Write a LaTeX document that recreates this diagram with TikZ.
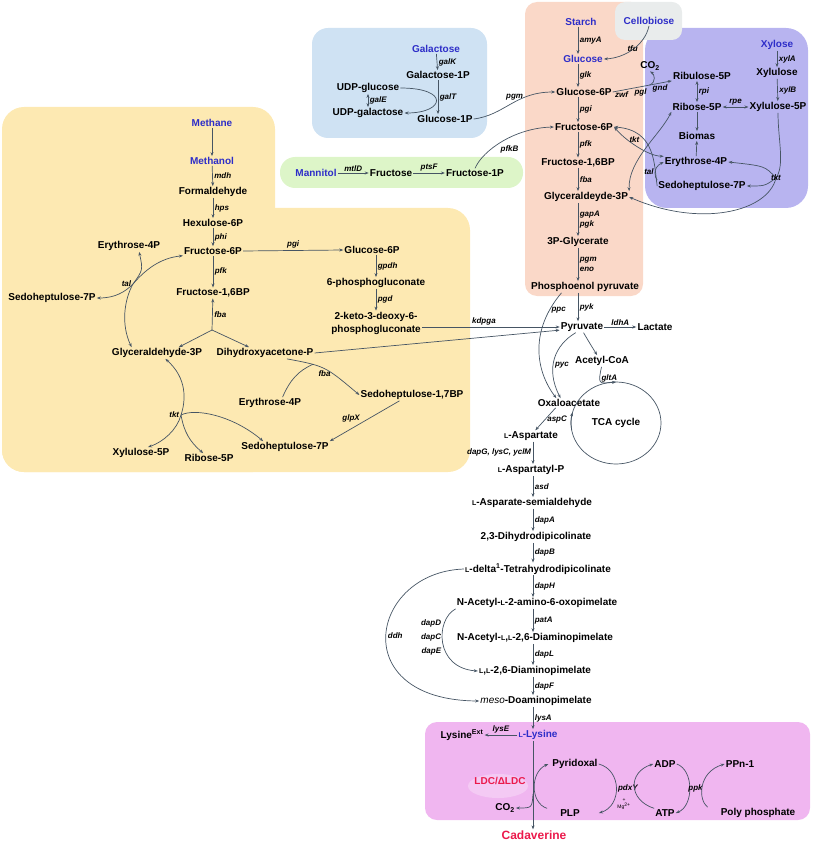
\documentclass[tikz,border=0pt]{standalone}
\usepackage{fontspec}
\setmainfont{Liberation Sans}
\usetikzlibrary{arrows.meta}

\definecolor{metblue}{RGB}{45,45,200}
\definecolor{cadred}{RGB}{235,25,75}
\definecolor{linegray}{RGB}{70,85,100}
\definecolor{bgyellow}{RGB}{253,233,178}
\definecolor{bgblue}{RGB}{207,226,243}
\definecolor{bgsalmon}{RGB}{250,216,200}
\definecolor{bggray}{RGB}{233,236,236}
\definecolor{bgpurple}{RGB}{184,180,240}
\definecolor{bggreen}{RGB}{221,245,200}
\definecolor{bgpink}{RGB}{240,182,240}

\newcommand{\smallL}{{\fontsize{7}{8}\selectfont L}}

\tikzset{
  met/.style={font=\bfseries, inner sep=1pt},
  src/.style={met, text=metblue},
  enz/.style={font=\fontsize{8}{10}\selectfont\bfseries\itshape, inner sep=1.5pt},
  rxn/.style={draw=linegray, line width=0.7pt, ->},
  rxntwo/.style={draw=linegray, line width=0.7pt, <->},
  lijn/.style={draw=linegray, line width=0.7pt},
}

\begin{document}
\begin{tikzpicture}[x=1pt, y=-1pt, >={Stealth[length=4pt,width=3pt]}]
\useasboundingbox (0,0) rectangle (813,842);

% Achtergrondvlakken
\fill[bgyellow, rounded corners=22pt] (2,107) rectangle (275,472);
\fill[bgyellow, rounded corners=22pt] (2,208) rectangle (470,472);
\fill[bgblue, rounded corners=16pt] (312,28) rectangle (487,138);
\fill[bggreen, rounded corners=15pt] (280,157) rectangle (523,188);
\fill[bgsalmon, rounded corners=12pt] (525,2) rectangle (643,296);
\fill[bgpurple, rounded corners=22pt] (645,28) rectangle (808,208);
\fill[bggray, rounded corners=10pt] (615,2) rectangle (682,40);
\fill[bgpink, rounded corners=12pt] (425,722) rectangle (810,820);
\fill[bgpink!72!white] (498,786) ellipse (30 and 12);

% Galactose
\node[src] (galac) at (436,49) {Galactose};
\node[met] (galacIP) at (438,75) {Galactose-1P};
\node[met] (glcIPg) at (445,119) {Glucose-1P};
\node[met] (udpglc) at (368,88) {UDP-glucose};
\node[met] (udpgal) at (368,113) {UDP-galactose};
\draw[rxn] (galac) -- (galacIP) node[enz,midway,right] {galK};
\draw[rxn] (galacIP.south) -- (galacIP.south |- glcIPg.north) node[enz,midway,right] {galT};
\draw[rxntwo] (udpglc) -- (udpgal) node[enz,midway,right] {galE};
\draw[rxn] (udpglc.east) .. controls (450,88) and (445,113) .. (udpgal.east);

% Glycolyse
\coordinate (colG) at (578,0);
\node[src] (starch) at (581,22) {Starch};
\node[src] (cello) at (649,21) {Cellobiose};
\node[src] (glc) at (583,59) {Glucose};
\node[met] (glcVIP) at (584,92) {Glucose-6P};
\node[met] (frcVIP) at (584,127) {Fructose-6P};
\node[met] (fbp) at (578,163) {Fructose-1,6BP};
\node[met] (gap) at (586,197) {Glyceraldeyde-3P};
\node[met] (pg) at (578,242) {3P-Glycerate};
\node[met] (pep) at (585,287) {Phosphoenol pyruvate};
\draw[rxn] (starch.south -| colG) -- (glc.north -| colG) node[enz,midway,right] {amyA};
\draw[rxn] (glc.south -| colG) -- (glcVIP.north -| colG) node[enz,midway,right] {glk};
\draw[rxn] (glcVIP.south -| colG) -- (frcVIP.north -| colG) node[enz,midway,right] {pgi};
\draw[rxn] (frcVIP.south -| colG) -- (fbp.north -| colG) node[enz,midway,right] {pfk};
\draw[rxn] (fbp.south -| colG) -- (gap.north -| colG) node[enz,midway,right] {fba};
\draw[rxn] (gap.south -| colG) -- (pg.north -| colG) node[enz,midway,right,align=left] {gapA\\pgk};
\draw[rxn] (pg.south -| colG) -- (pep.north -| colG) node[enz,midway,right,align=left] {pgm\\eno};
\draw[rxn] (cello.south) .. controls (645,45) and (625,58) .. (glc.east) node[enz,pos=0.35,below left] {tfu};
\draw[rxn] (glcIPg.east) .. controls (505,115) and (515,92) .. (glcVIP.west) node[enz,pos=0.55,above] {pgm};

% Pentosefosfaatroute
\node[met] (co2top) at (650,66) {CO\textsubscript{2}};
\node[met] (ru5p) at (702,76) {Ribulose-5P};
\node[met] (r5p) at (697,107) {Ribose-5P};
\node[src] (xyl) at (777,45) {Xylose};
\node[met] (xylu) at (777,73) {Xylulose};
\node[met] (x5p) at (778,107) {Xylulose-5P};
\node[met] (biomas) at (697,136) {Biomas};
\node[met] (e4p) at (696,162) {Erythrose-4P};
\node[met] (s7p) at (702,186) {Sedoheptulose-7P};
\draw[rxn] (glcVIP.east) -- (ru5p.south west) coordinate[pos=0.62] (co2br)
  node[enz,pos=0.15,below] {zwf} node[enz,pos=0.47,below] {pgl} node[enz,pos=0.8,below] {gnd};
\draw[rxn] (co2br) .. controls (657,82) and (654,74) .. (co2top.south);
\draw[rxntwo] (ru5p.south -| r5p) -- (r5p.north) node[enz,midway,right] {rpi};
\draw[rxntwo] (r5p.east) -- (x5p.west) node[enz,midway,above] {rpe};
\draw[rxn] (xyl) -- (xylu) node[enz,midway,right] {xylA};
\draw[rxn] (xylu) -- (x5p) node[enz,midway,right] {xylB};
\draw[rxn] (r5p) -- (biomas);
\draw[rxn] (e4p) -- (biomas);

% tkt / tal rechts
\coordinate (tktR) at (776,178);
\draw[lijn] (x5p.south) .. controls (778,140) and (785,165) .. (tktR);
\draw[rxn] (tktR) .. controls (768,212) and (700,228) .. (gap.east);
\draw[rxn] (tktR) .. controls (765,186) .. (s7p.east);
\draw[rxn] (tktR) .. controls (765,166) .. (e4p.east);
\node[enz] (tktRl) at (tktR) {tkt};
\draw[rxntwo] (frcVIP.east) .. controls (625,140) and (648,156) .. (e4p.170) node[enz,pos=0.45,above] {tkt};
\draw[rxntwo] (r5p.south west) .. controls (660,135) and (628,160) .. (gap.north east);
\draw[rxn] (s7p.west) .. controls (654,165) and (656,130) .. (frcVIP.east) node[enz,pos=0.2,left] {tal};
\draw[rxn] (s7p.north west) .. controls (655,178) and (652,168) .. (e4p.west);

% Mannitol
\node[src] (mann) at (316,173) {Mannitol};
\node[met] (fru) at (391,173) {Fructose};
\node[met] (f1p) at (475,173) {Fructose-1P};
\draw[rxn] (mann) -- (fru) node[enz,midway,above] {mtlD};
\draw[rxn] (fru) -- (f1p) node[enz,midway,above] {ptsF};
\draw[rxn] (f1p.north) .. controls (483,150) and (515,128) .. (frcVIP.west) node[enz,pos=0.45,below right] {pfkB};

% Methanol (RuMP)
\node[src] (methane) at (212,123) {Methane};
\node[src] (methanol) at (212,161) {Methanol};
\node[met] (formal) at (213,192) {Formaldehyde};
\node[met] (hex) at (213,223) {Hexulose-6P};
\node[met] (frcL) at (213,251) {Fructose-6P};
\node[met] (fbpL) at (213,293) {Fructose-1,6BP};
\node[met] (glcL) at (372,250) {Glucose-6P};
\node[met] (pgluc) at (376,283) {6-phosphogluconate};
\node[met, align=center, font=\fontsize{10}{13}\selectfont\bfseries] (kdpg) at (376,323) {2-keto-3-deoxy-6-\\phosphogluconate};
\node[met] (e4pL) at (129,246) {Erythrose-4P};
\node[met] (s7pL) at (52,298) {Sedoheptulose-7P};
\node[met] (gapL) at (157,353) {Glyceraldehyde-3P};
\node[met] (dhap) at (265,353) {Dihydroxyacetone-P};
\node[met] (e4pLo) at (270,403) {Erythrose-4P};
\node[met] (sbp) at (412,395) {Sedoheptulose-1,7BP};
\node[met] (s7pLo) at (285,447) {Sedoheptulose-7P};
\node[met] (x5pL) at (141,453) {Xylulose-5P};
\node[met] (r5pL) at (209,458) {Ribose-5P};
\draw[rxn] (methane) -- (methanol);
\draw[rxn] (methanol) -- (formal) node[enz,midway,right] {mdh};
\draw[rxn] (formal) -- (hex) node[enz,midway,right] {hps};
\draw[rxn] (hex) -- (frcL) node[enz,midway,right] {phi};
\draw[rxn] (frcL) -- (fbpL) node[enz,midway,right] {pfk};
\draw[rxn] (frcL.east) -- (glcL.west) node[enz,midway,above] {pgi};
\draw[rxn] (glcL.south -| pgluc) -- (pgluc.north) node[enz,midway,right] {gpdh};
\draw[rxn] (pgluc) -- (kdpg) node[enz,midway,right] {pgd};
\coordinate (fbaS) at (212,330);
\draw[rxn] (fbaS) -- (fbpL) node[enz,midway,right] {fba};
\draw[rxn] (fbaS) -- (gapL.15);
\draw[rxn] (fbaS) -- (dhap.160);
% tal / tkt links
\coordinate (talX) at (133,284);
\draw[rxntwo] (s7pL.east) .. controls (115,298) and (125,292) .. (talX) node[enz,left] {tal}
  .. controls (145,270) and (160,258) .. (frcL.south west);
\draw[rxntwo] (e4pL.-30) .. controls (143,270) .. (talX) .. controls (124,300) and (121,325) .. (gapL.167);
\coordinate (tktL) at (181,415);
\draw[rxntwo] (gapL.-35) .. controls (187,378) and (186,400) .. (tktL) node[enz,left] {tkt}
  .. controls (177,430) and (163,442) .. (x5pL.40);
\draw[rxn] (tktL) .. controls (184,432) and (190,442) .. (r5pL.140);
\draw[rxn] (tktL) .. controls (195,408) and (232,415) .. (s7pLo.165);
\draw[rxn] (dhap.-15) .. controls (325,366) .. (sbp.west) coordinate[pos=0.3] (fbaM) node[enz,pos=0.5,below] {fba};
\draw[lijn] (e4pLo.25) .. controls (290,380) and (298,371) .. (fbaM);
\draw[rxn] (sbp.-155) -- (s7pLo.north east) node[enz,pos=0.55,above left,inner sep=1pt] {glpX};

% Pyruvaat en TCA
\coordinate (colL) at (533,0);
\node[met] (pyr) at (582,327) {Pyruvate};
\node[met] (lac) at (655,327) {Lactate};
\node[met] (accoa) at (602,361) {Acetyl-CoA};
\node[met] (oaa) at (569,403) {Oxaloacetate};
\coordinate (tcaC) at (616,423);
\node[met] (tca) at (tcaC) {TCA cycle};
\draw[rxn] (pep.south -| colG) -- (pyr.north -| colG) node[enz,midway,right] {pyk};
\draw[rxn] (pyr.east) -- (lac.west) node[enz,midway,above] {ldhA};
\draw[rxn] (kdpg.east |- pyr.west) -- (pyr.west) node[enz,pos=0.45,above] {kdpga};
\draw[rxn] (dhap.east) -- (pyr.188);
\draw[rxn] (pyr.-75) .. controls (589,342) .. (accoa.130);
\draw[rxn] (pep.-166) .. controls (530,330) and (535,370) .. (oaa.159) node[enz,pos=0.15,right] {ppc};
\draw[rxn] (pyr.-138) .. controls (555,345) and (545,368) .. (oaa.150) node[enz,pos=0.6,right] {pyc};
\draw[lijn] (tcaC) ellipse (45 and 41);
\path (tcaC) ++(0,-41) coordinate (tcaTop);
\draw[rxn] (accoa.-95) .. controls (598,384) .. (tcaTop) node[enz,pos=0.3,right] {gltA};
\draw[rxn] (tcaC) ++(-44.3,7.1) arc[start angle=170, end angle=195, x radius=45, y radius=41];

% Lysine-route
\node[met] (asp) at (531,436) {\smallL-Aspartate};
\node[met] (aspp) at (531,470) {\smallL-Aspartatyl-P};
\node[met] (asa) at (532,503) {\smallL-Asparate-semialdehyde};
\node[met] (dhdp) at (536,537) {2,3-Dihydrodipicolinate};
\node[met] (thdp) at (538,569) {\smallL-delta\textsuperscript{1}-Tetrahydrodipicolinate};
\node[met] (naao) at (537,603) {N-Acetyl-\smallL-2-amino-6-oxopimelate};
\node[met] (nadap) at (535,638) {N-Acetyl-\smallL,\smallL-2,6-Diaminopimelate};
\node[met] (lldap) at (535,671) {\smallL,\smallL-2,6-Diaminopimelate};
\node[met] (meso) at (536,701) {{\mdseries\itshape meso}-Doaminopimelate};
\draw[rxn] (oaa.-160) -- (asp.53) node[enz,midway,right] {aspC};
\draw[rxn] (asp.south -| colL) -- (aspp.north -| colL) node[enz,midway,left] {dapG, lysC, yclM};
\draw[rxn] (aspp.south -| colL) -- (asa.north -| colL) node[enz,midway,right] {asd};
\draw[rxn] (asa.south -| colL) -- (dhdp.north -| colL) node[enz,midway,right] {dapA};
\draw[rxn] (dhdp.south -| colL) -- (thdp.north -| colL) node[enz,midway,right] {dapB};
\draw[rxn] (thdp.south -| colL) -- (naao.north -| colL) node[enz,midway,right] {dapH};
\draw[rxn] (naao.south -| colL) -- (nadap.north -| colL) node[enz,midway,right] {patA};
\draw[rxn] (nadap.south -| colL) -- (lldap.north -| colL) node[enz,midway,right] {dapL};
\draw[rxn] (lldap.south -| colL) -- (meso.north -| colL) node[enz,midway,right] {dapF};
\draw[rxn] (thdp.west) .. controls (370,572) and (345,700) .. (meso.west) node[enz,pos=0.5,right] {ddh};
\draw[rxn] (naao.south west) .. controls (435,620) and (435,668) .. (lldap.west)
  node[enz,pos=0.5,left,align=right,yshift=6pt,font=\fontsize{8}{14}\selectfont\bfseries\itshape] {dapD\\dapC\\dapE};

% Cadaverine
\node[src] (lys) at (538,735) {\smallL-Lysine};
\node[met] (lysext) at (462,735) {Lysine\textsuperscript{Ext}};
\node[met, text=cadred, font=\fontsize{12}{14}\selectfont\bfseries] (cad) at (534,835) {Cadaverine};
\node[met, text=cadred] (ldc) at (500,781) {LDC/ΔLDC};
\node[met] (co2b) at (505,808) {CO\textsubscript{2}};
\node[met] (pyrdx) at (575,764) {Pyridoxal};
\node[met] (plp) at (570,813) {PLP};
\node[met] (adp) at (665,764) {ADP};
\node[met] (atp) at (665,813) {ATP};
\node[met] (ppn) at (740,764) {PPn-1};
\node[met] (polyp) at (758,813) {Poly phosphate};
\node[font=\fontsize{5}{7}\selectfont, align=center, inner sep=0pt] (mg) at (624,804) {+\\Mg\textsuperscript{2+}};
\draw[rxn] (meso.south -| colL) -- (lys.north -| colL) node[enz,midway,right] {lysA};
\draw[rxn] (lys.west) -- (lysext.east) node[enz,midway,above] {lysE};
\draw[rxn] (lys.south -| colL) -- (cad.north -| colL) coordinate[pos=0.6] (ldcM);
\draw[rxn] (ldcM) .. controls (532,808) .. (co2b.east);
\draw[rxn] ([xshift=-12pt]plp.north west) .. controls (530,803) and (530,772) .. ([xshift=-3pt]pyrdx.west);
\draw[rxn] (pyrdx.east) .. controls (622,770) and (622,806) .. ([xshift=18pt]plp.east) node[enz,pos=0.5,right] {pdxY};
\draw[rxn] (atp.north west) .. controls (628,800) and (628,772) .. (adp.west);
\draw[rxn] (adp.east) .. controls (694,770) and (694,806) .. (atp.east) node[enz,pos=0.5,right,xshift=-3pt] {ppk};
\draw[rxn] ([xshift=-12pt]polyp.north west) .. controls (698,800) and (698,772) .. (ppn.west);

\end{tikzpicture}
\end{document}
